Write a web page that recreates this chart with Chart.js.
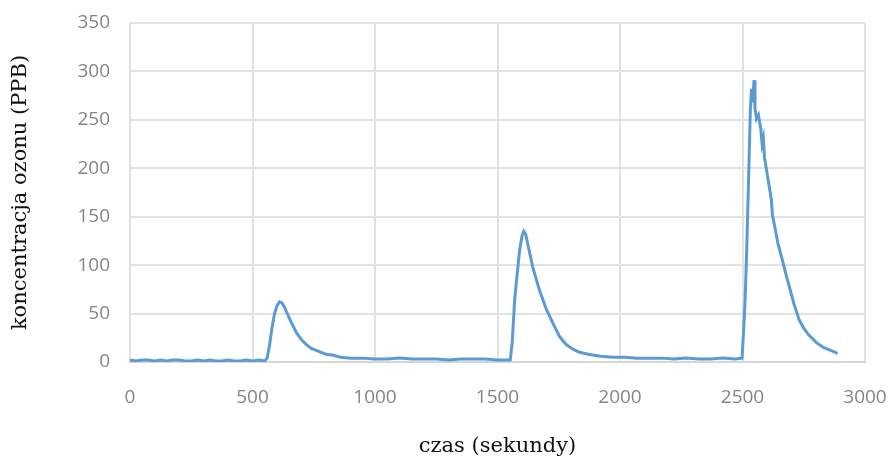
<!DOCTYPE html>
<html>
<head>
<meta charset="utf-8">
<script src="https://cdn.jsdelivr.net/npm/chart.js@4"></script>
<style>
  html, body { margin: 0; padding: 0; background: #fff; }
  #wrap { width: 893px; height: 459px; }
</style>
</head>
<body>
<div id="wrap"><canvas id="chart" width="893" height="459"></canvas></div>
<script>
// czas (s) i stężenie ozonu (PPB)
const czas = [
  0, 25, 50, 75, 100, 125, 150, 175, 200, 225, 250, 275, 300, 325, 350, 375, 400, 425, 450, 475, 500, 525, 550,
  560, 570, 580, 590, 600, 610, 620, 630, 640, 660, 680, 700, 720, 740, 760, 780, 800, 830, 860, 900, 950,
  1000, 1050, 1100, 1150, 1200, 1250, 1300, 1350, 1400, 1450, 1500, 1540, 1552,
  1560, 1570, 1580, 1590, 1600, 1607, 1615, 1625, 1644, 1670, 1700, 1730, 1754, 1780, 1810, 1835, 1870, 1920, 1970,
  2020, 2070, 2120, 2170, 2220, 2270, 2320, 2370, 2420, 2470, 2498,
  2504, 2510, 2516, 2525, 2532, 2537, 2542, 2547, 2551, 2557, 2565, 2569, 2575, 2580, 2585, 2590, 2600, 2610, 2618,
  2622, 2630, 2645, 2663, 2680, 2692, 2710, 2732, 2750, 2770, 2802, 2830, 2860, 2888
];
const ozon = [
  2, 1, 2, 2, 1, 2, 1, 2, 2, 1, 1, 2, 1, 2, 1, 1, 2, 1, 1, 2, 1, 2, 1,
  4, 18, 36, 50, 58, 62, 61, 57, 51, 40, 30, 23, 18, 14, 12, 10, 8, 7, 5, 4, 4,
  3, 3, 4, 3, 3, 3, 2, 3, 3, 3, 2, 2, 2,
  20, 64, 90, 115, 130, 135, 132, 120, 98, 75, 54, 38, 26, 18, 13, 10, 8, 6, 5,
  5, 4, 4, 4, 3, 4, 3, 3, 4, 3, 4,
  30, 60, 105, 190, 260, 282, 268, 291, 262, 251, 255, 249, 240, 225, 231, 211, 195, 180, 167,
  152, 142, 122, 105, 88, 77, 60, 43, 35, 28, 20, 15, 12, 9
];
const xTicks = [0, 500, 1000, 1500, 2000, 2500, 3000];
const yTicks = [0, 50, 100, 150, 200, 250, 300, 350];

const gridColor = "#e2e2e2";
const tickColor = "#858585";
const tickFont = { family: "Open Sans", size: 19 };
const titleFont = { family: "DejaVu Serif", size: 21 };

new Chart(document.getElementById("chart"), {
  type: "line",
  data: {
    datasets: [
      {
        label: "ozon",
        data: czas.map((t, i) => ({ x: t, y: ozon[i] })),
        borderColor: "#5b9bd5",
        borderWidth: 3,
        pointRadius: 0,
        tension: 0,
        fill: false,
      },
    ],
  },
  options: {
    responsive: false,
    animation: false,
    layout: { padding: { top: 23, right: 28, left: 0, bottom: 0 } },
    plugins: { legend: { display: false }, tooltip: { enabled: false } },
    scales: {
      x: {
        type: "linear",
        min: xTicks[0],
        max: xTicks[xTicks.length - 1],
        afterBuildTicks: (s) => { s.ticks = xTicks.map((v) => ({ value: v })); },
        afterFit: (s) => {
          s.height = 97;
          s.paddingLeft = 0;
          s.paddingRight = 0;
        },
        grid: { color: gridColor, lineWidth: 2, drawTicks: false },
        border: { color: "#d6d6d6", width: 2 },
        ticks: { padding: 24, color: tickColor, font: tickFont, callback: (v) => String(v) },
        title: {
          display: true,
          text: "czas (sekundy)",
          color: "#111",
          padding: { bottom: 0 },
          font: titleFont,
        },
      },
      y: {
        min: yTicks[0],
        max: yTicks[yTicks.length - 1],
        afterBuildTicks: (s) => { s.ticks = yTicks.map((v) => ({ value: v })); },
        afterFit: (s) => {
          s.width = 130;
          s.paddingTop = 0;
          s.paddingBottom = 0;
        },
        grid: { color: gridColor, lineWidth: 2, drawTicks: false },
        border: { display: false },
        ticks: { padding: 20, color: tickColor, font: tickFont, callback: (v) => String(v) },
        title: {
          display: true,
          text: "koncentracja ozonu (PPB)",
          color: "#111",
          padding: { top: 8 },
          font: titleFont,
        },
      },
    },
  },
});
</script>
</body>
</html>
